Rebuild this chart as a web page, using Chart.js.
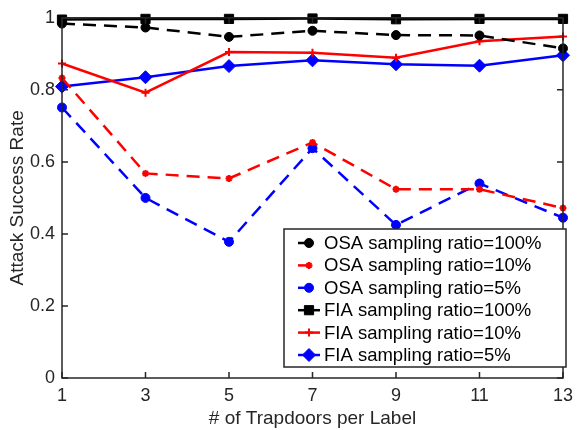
<!DOCTYPE html>
<html>
<head>
<meta charset="utf-8">
<script src="https://cdn.jsdelivr.net/npm/chart.js@4.4.0/dist/chart.umd.min.js"></script>
<style>
  html, body { margin: 0; padding: 0; background: #fff; }
  #wrap { width: 580px; height: 430px; position: relative; }
</style>
</head>
<body>
<div id="wrap"><canvas id="chart" width="580" height="430"></canvas></div>
<script>
// data
const trapdoors = [1, 3, 5, 7, 9, 11, 13];
const xTicks = [1, 3, 5, 7, 9, 11, 13];
const yTicks = [0, 0.2, 0.4, 0.6, 0.8, 1];

const osa100 = [0.984, 0.973, 0.947, 0.964, 0.952, 0.951, 0.915];
const osa10 = [0.833, 0.568, 0.554, 0.654, 0.524, 0.524, 0.472];
const osa5 = [0.751, 0.500, 0.378, 0.638, 0.425, 0.540, 0.445];
const fia100 = [0.995, 0.997, 0.997, 0.998, 0.996, 0.997, 0.997];
const fia10 = [0.873, 0.792, 0.905, 0.903, 0.889, 0.935, 0.948];
const fia5 = [0.809, 0.835, 0.866, 0.882, 0.871, 0.867, 0.896];

const labels = [
    'OSA sampling ratio=100%', 'OSA sampling ratio=10%', 'OSA sampling ratio=5%',
    'FIA sampling ratio=100%', 'FIA sampling ratio=10%', 'FIA sampling ratio=5%'
];

const axisColor = '#262626';
const fontFamily = '"Liberation Sans", Arial, sans-serif';
const dash = [13, 8];

function pts(vals) {
    return vals.map((v, i) => ({ x: trapdoors[i], y: v }));
}

function series(label, vals, color, dashed, style, radius) {
    return {
        label: label,
        data: pts(vals),
        borderColor: color,
        backgroundColor: color,
        borderWidth: 2.5,
        borderDash: dashed ? dash : [],
        pointStyle: style,
        pointRadius: radius,
        pointBorderWidth: style === 'star' || style === 'cross' ? 2 : 1,
        pointBorderColor: color,
        pointBackgroundColor: color,
        tension: 0,
        fill: false,
        clip: false
    };
}

const datasets = [
    series(labels[0], osa100, '#000000', true, 'circle', 4.5),
    series(labels[1], osa10, '#ff0000', true, 'star', 3.5),
    series(labels[2], osa5, '#0000ff', true, 'circle', 4.5),
    series(labels[3], fia100, '#000000', false, 'rect', 6.5),
    series(labels[4], fia10, '#ff0000', false, 'cross', 4),
    series(labels[5], fia5, '#0000ff', false, 'rectRot', 6.5)
];

// axes box + inward ticks, matlab style
const boxPlugin = {
    id: 'box',
    afterDatasetsDraw(chart) {
        const { ctx, chartArea: a, scales } = chart;
        ctx.save();
        ctx.strokeStyle = axisColor;
        ctx.lineWidth = 1.5;
        ctx.strokeRect(a.left, a.top, a.right - a.left, a.bottom - a.top);
        const len = 6;
        ctx.beginPath();
        xTicks.forEach(t => {
            const px = scales.x.getPixelForValue(t);
            ctx.moveTo(px, a.bottom); ctx.lineTo(px, a.bottom - len);
            ctx.moveTo(px, a.top); ctx.lineTo(px, a.top + len);
        });
        yTicks.forEach(t => {
            const py = scales.y.getPixelForValue(t);
            ctx.moveTo(a.left, py); ctx.lineTo(a.left + len, py);
            ctx.moveTo(a.right, py); ctx.lineTo(a.right - len, py);
        });
        ctx.stroke();
        ctx.restore();
    }
};

// legend box in the lower right corner
const legendPlugin = {
    id: 'boxLegend',
    afterDraw(chart) {
        const { ctx } = chart;
        const x0 = 284, y0 = 229, x1 = 566, y1 = 367;
        ctx.save();
        ctx.fillStyle = '#fff';
        ctx.fillRect(x0, y0, x1 - x0, y1 - y0);
        ctx.strokeStyle = axisColor;
        ctx.lineWidth = 1.5;
        ctx.strokeRect(x0, y0, x1 - x0, y1 - y0);
        ctx.font = '18.5px ' + fontFamily;
        ctx.textBaseline = 'middle';
        chart.data.datasets.forEach((ds, i) => {
            const y = 243 + i * 22.4;
            const dashed = ds.borderDash.length > 0;
            ctx.strokeStyle = ds.borderColor;
            ctx.lineWidth = ds.borderWidth;
            ctx.setLineDash([]);
            ctx.beginPath();
            ctx.moveTo(298, y);
            ctx.lineTo(dashed ? 309 : 320, y);
            ctx.stroke();
            ctx.fillStyle = ds.pointBackgroundColor;
            ctx.strokeStyle = ds.pointBorderColor;
            ctx.lineWidth = ds.pointBorderWidth;
            Chart.helpers.drawPoint(ctx, {
                pointStyle: ds.pointStyle,
                radius: ds.pointRadius,
                borderWidth: ds.pointBorderWidth
            }, 309, y);
            ctx.fillStyle = '#000';
            ctx.fillText(ds.label, 324, y + 1);
        });
        ctx.restore();
    }
};

new Chart(document.getElementById('chart'), {
    type: 'line',
    data: { datasets: datasets },
    options: {
        responsive: false,
        animation: false,
        layout: { padding: { top: 13, right: 13, left: 0, bottom: 0 } },
        plugins: {
            legend: { display: false },
            tooltip: { enabled: false }
        },
        scales: {
            x: {
                type: 'linear',
                min: 1,
                max: 13,
                afterFit(scale) { scale.height = 52; },
                afterBuildTicks(scale) { scale.ticks = xTicks.map(v => ({ value: v })); },
                grid: { display: false, drawTicks: false },
                border: { display: false },
                ticks: {
                    padding: 7,
                    color: axisColor,
                    font: { family: fontFamily, size: 18 },
                    maxRotation: 0
                },
                title: {
                    display: true,
                    text: '# of Trapdoors per Label',
                    color: axisColor,
                    padding: { top: 0, bottom: 0 },
                    font: { family: fontFamily, size: 19 }
                }
            },
            y: {
                min: 0,
                max: 1,
                afterFit(scale) { scale.width = 62; },
                afterBuildTicks(scale) { scale.ticks = yTicks.map(v => ({ value: v })); },
                grid: { display: false, drawTicks: false },
                border: { display: false },
                ticks: {
                    padding: 7,
                    color: axisColor,
                    font: { family: fontFamily, size: 18 },
                    callback: v => String(Math.round(v * 10) / 10)
                },
                title: {
                    display: true,
                    text: 'Attack Success Rate',
                    color: axisColor,
                    padding: { top: 6, bottom: 0 },
                    font: { family: fontFamily, size: 19 }
                }
            }
        }
    },
    plugins: [boxPlugin, legendPlugin]
});
</script>
</body>
</html>
